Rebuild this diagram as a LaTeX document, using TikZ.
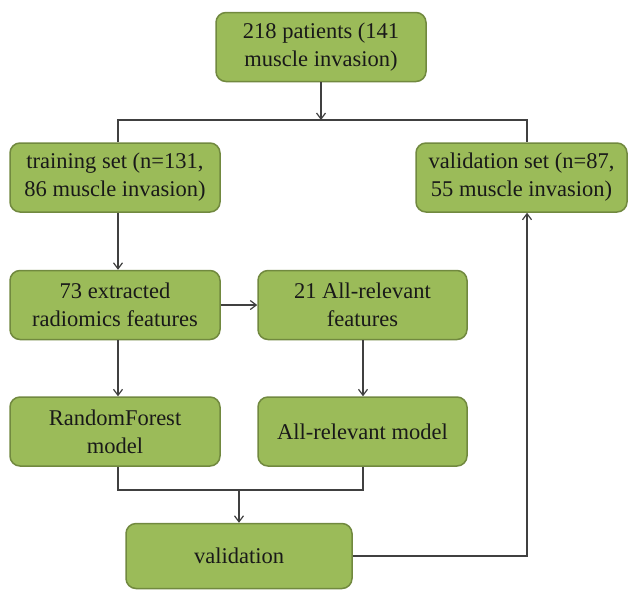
\documentclass[tikz,border=0pt]{standalone}
\usepackage{fontspec}
\setmainfont{Liberation Serif}
\usetikzlibrary{arrows.meta}
\definecolor{boxfill}{HTML}{9BBB59}
\definecolor{boxline}{HTML}{71893F}
\definecolor{lineclr}{HTML}{404040}
\tikzset{
  box/.style={draw=boxline, fill=boxfill, line width=1.5pt, rounded corners=10pt,
    minimum width=210pt, minimum height=69pt, align=center, inner sep=2pt,
    font=\fontsize{22.5}{28}\selectfont, text=black!90},
  conn/.style={draw=lineclr, line width=1.2pt},
  arr/.style={conn, -{Straight Barb[length=6pt,width=9pt]}}
}
\begin{document}
\begin{tikzpicture}[x=1pt,y=-1pt]
\useasboundingbox (0,0) rectangle (637,590);
\node[box] (top) at (321,47) {218 patients (141\\muscle invasion)};
\node[box] (train) at (115,177.5) {training set (n=131,\\86 muscle invasion)};
\node[box, minimum width=211pt] (val) at (521.5,177.5) {validation set (n=87,\\55 muscle invasion)};
\node[box] (extr) at (115,305) {73 extracted\\radiomics features};
\node[box, minimum width=209pt] (allrel) at (362.5,305) {21 All-relevant\\features};
\node[box] (rf) at (115,431.5) {RandomForest\\model};
\node[box, minimum width=209pt] (armodel) at (362.5,431.5) {All-relevant model};
\node[box, minimum width=226pt, minimum height=65pt] (valid) at (239,556) {validation};
\coordinate (split) at (321,120);
\draw[arr] (top.south) -- (split);
\draw[conn] (train.north -| 118,0) |- (split) -| (val.north -| 527,0);
\draw[arr] (train.south -| 118,0) -- (extr.north -| 118,0);
\draw[arr] (extr.east) -- (allrel.west);
\draw[arr] (extr.south -| 118,0) -- (rf.north -| 118,0);
\draw[arr] (allrel.south -| 363,0) -- (armodel.north -| 363,0);
\coordinate (join) at (239,490);
\draw[conn] (rf.south -| 118,0) |- (join) -| (armodel.south -| 363,0);
\draw[arr] (join) -- (valid.north);
\draw[arr] (valid.east) -| (val.south -| 527,0);
\end{tikzpicture}
\end{document}
